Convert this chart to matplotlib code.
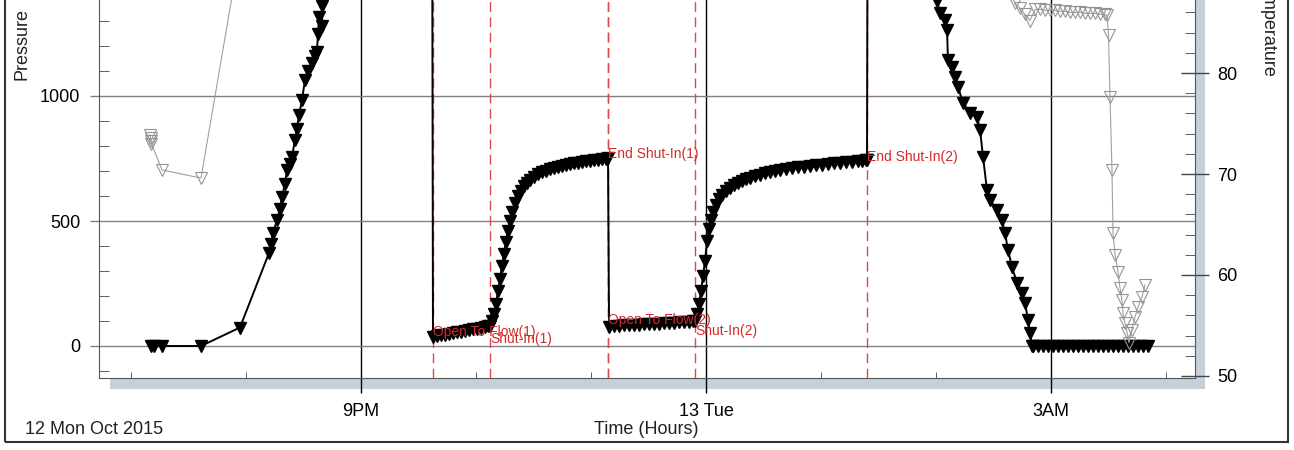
import matplotlib
matplotlib.use("Agg")
import matplotlib.pyplot as plt
from matplotlib.patches import Rectangle
from matplotlib.ticker import MultipleLocator

plt.rcParams['font.family'] = ['Liberation Sans', 'DejaVu Sans']

# time in hours from 12 Oct 00:00
pressure_time = [19.174, 19.200, 19.270, 19.609, 19.948,
                 20.200, 20.217, 20.235, 20.270, 20.296, 20.313, 20.339, 20.357, 20.383, 20.400,
                 20.426, 20.443, 20.461, 20.487, 20.513, 20.539, 20.574, 20.600, 20.617, 20.626,
                 20.635, 20.661, 20.665, 20.690, 21.000, 21.620,
                 # flow 1
                 21.626, 21.661, 21.696, 21.730, 21.765, 21.800, 21.835, 21.870, 21.904, 21.939,
                 21.974, 22.009, 22.043, 22.078, 22.104,
                 # shut-in 1
                 22.122, 22.139, 22.157, 22.174, 22.191, 22.209, 22.226, 22.243, 22.261, 22.278,
                 22.296, 22.313, 22.339, 22.365, 22.391, 22.417, 22.443, 22.470, 22.504, 22.539,
                 22.574, 22.609, 22.643, 22.678, 22.713, 22.748, 22.783, 22.817, 22.852, 22.887,
                 22.922, 22.957, 22.991, 23.026, 23.061, 23.096, 23.130, 23.148,
                 # flow 2
                 23.157, 23.200, 23.243, 23.287, 23.330, 23.374, 23.417, 23.461, 23.504, 23.548,
                 23.591, 23.635, 23.678, 23.722, 23.765, 23.809, 23.852, 23.887,
                 # shut-in 2
                 23.904, 23.922, 23.939, 23.957, 23.974, 23.991, 24.009, 24.026, 24.043, 24.061,
                 24.087, 24.113, 24.139, 24.174, 24.209, 24.243, 24.278, 24.313, 24.348, 24.383,
                 24.426, 24.470, 24.513, 24.557, 24.600, 24.643, 24.696, 24.748, 24.800, 24.852,
                 24.904, 24.957, 25.009, 25.061, 25.113, 25.165, 25.217, 25.270, 25.322, 25.357,
                 25.391, 25.400,
                 # pull out
                 25.404, 25.900, 25.950,
                 26.009, 26.035, 26.078, 26.096, 26.104, 26.139, 26.165, 26.191, 26.235, 26.296,
                 26.357, 26.383, 26.409, 26.443, 26.470, 26.530, 26.574, 26.600, 26.626, 26.661,
                 26.704, 26.748, 26.774, 26.800, 26.817, 26.835,
                 26.843, 26.887, 26.930, 26.974, 27.017, 27.061, 27.104, 27.148, 27.191, 27.235,
                 27.278, 27.322, 27.365, 27.409, 27.452, 27.496, 27.539, 27.583, 27.626, 27.670,
                 27.713, 27.757, 27.800, 27.843]
pressure_psi = [0, 0, 0, 0, 74,
                372, 410, 452, 504, 550, 596, 650, 704, 730, 756,
                824, 870, 924, 984, 1064, 1100, 1132, 1160, 1176, 1250,
                1316, 1280, 1360, 1430, 1520, 1530,
                36, 40, 43, 46, 49, 52, 55, 58, 61, 64,
                67, 70, 73, 76, 79,
                80, 100, 130, 170, 220, 270, 320, 370, 418, 462,
                500, 535, 572, 600, 622, 640, 654, 666, 678, 688,
                696, 702, 708, 713, 717, 721, 725, 728, 731, 734,
                737, 739, 742, 744, 746, 748, 750, 752,
                78, 80, 81, 83, 84, 85, 86, 87, 88, 89,
                90, 91, 92, 94, 95, 96, 98, 100,
                100, 130, 170, 220, 280, 340, 420, 470, 505, 535,
                565, 588, 604, 620, 632, 643, 652, 660, 667, 673,
                680, 686, 691, 696, 700, 704, 708, 712, 715, 718,
                721, 724, 726, 728, 731, 733, 735, 737, 739, 741,
                743, 745,
                1560, 1520, 1440,
                1380, 1332, 1304, 1264, 1144, 1116, 1076, 1036, 972, 932,
                916, 864, 756, 624, 584, 544, 504, 452, 384, 316,
                252, 212, 172, 104, 52, 0,
                0, 0, 0, 0, 0, 0, 0, 0, 0, 0,
                0, 0, 0, 0, 0, 0, 0, 0, 0, 0,
                0, 0, 0, 0]

temp_time = [19.165, 19.170, 19.174, 19.178, 19.270, 19.609, 19.948, 21.000, 25.500,
             26.580, 26.687, 26.730, 26.774, 26.817, 26.861, 26.904, 26.948, 26.991, 27.035,
             27.078, 27.122, 27.165, 27.209, 27.252, 27.296, 27.339, 27.383, 27.426, 27.470,
             27.487, 27.500, 27.513, 27.530, 27.539, 27.557, 27.583, 27.600, 27.617, 27.626,
             27.643, 27.661, 27.678, 27.704, 27.730, 27.757, 27.791, 27.817]
temp_degF = [73.9, 73.6, 73.3, 73.0, 70.4, 69.6, 92.2, 98.0, 99.0,
             89.5, 86.9, 86.4, 85.8, 85.2, 86.3, 86.3, 86.2, 86.2, 86.2,
             86.1, 86.1, 86.0, 86.0, 86.0, 85.9, 85.9, 85.9, 85.8, 85.8,
             85.7, 83.8, 77.6, 70.4, 64.2, 62.0, 60.3, 58.7, 57.5, 56.2,
             55.2, 54.3, 53.3, 54.6, 55.8, 56.8, 57.8, 59.0]

event_time = [21.626, 22.122, 23.148, 23.152, 23.904, 25.400]
event_label = ['Open To Flow(1)', 'Shut-In(1)', 'End Shut-In(1)', 'Open To Flow(2)',
               'Shut-In(2)', 'End Shut-In(2)']
event_label_p = [56, 30, 768, 104, 62, 756]

tick_hours = [21, 24, 27]
tick_labels = ['9PM', '13 Tue', '3AM']
minor_hours = [19, 20, 22, 23, 25, 26, 28]

W, H = 1294, 450
fig = plt.figure(figsize=(W / 100, H / 100), dpi=100)

# plot shadow and outer frame
fig.patches.append(Rectangle((110 / W, (H - 389) / H), (1205 - 110) / W, 1.0,
                             transform=fig.transFigure, facecolor='#c6d0db',
                             edgecolor='none', zorder=-2))
fig.patches.append(Rectangle((5 / W, (H - 442) / H), (1288 - 5) / W, 1.2,
                             transform=fig.transFigure, facecolor='none',
                             edgecolor='#333333', lw=1.5, zorder=-1))

ax = fig.add_axes([99 / W, (H - 378) / H, (1195 - 99) / W, 378 / H])
ax.set_facecolor('white')
ax.set_xlim(18.722, 28.252)
ax.set_ylim(-128, 1384)

ax.plot(pressure_time, pressure_psi, color='black', lw=1.4, marker='v',
        markersize=8.5, markerfacecolor='black', markeredgecolor='black', zorder=4)

for t in event_time:
    ax.axvline(t, color='#e24646', lw=1, dashes=(7, 4), zorder=3)
for t, lab, p in zip(event_time, event_label, event_label_p):
    ax.text(t, p, lab, color='#d42a2a', fontsize=10, ha='left', va='center', zorder=5)

ax.set_xticks(tick_hours)
ax.set_xticklabels(tick_labels)
ax.set_xticks(minor_hours, minor=True)
ax.set_yticks([0, 500, 1000])
ax.yaxis.set_minor_locator(MultipleLocator(100))
ax.grid(True, axis='x', which='major', color='black', lw=1)
ax.grid(True, axis='y', which='major', color='#808080', lw=1)
ax.tick_params(axis='x', which='major', direction='out', length=11, width=1,
               color='black', pad=7, labelsize=13)
ax.tick_params(axis='x', which='minor', direction='in', length=4.5, color='#444444')
ax.tick_params(axis='y', which='major', direction='out', length=6.5, width=1,
               color='#808080', pad=7, labelsize=13)
ax.tick_params(axis='y', which='minor', direction='in', length=7, color='#444444')
for s in ['top', 'right']:
    ax.spines[s].set_visible(False)
for s in ['left', 'bottom']:
    ax.spines[s].set_color('#555555')

ax2 = ax.twinx()
ax2.set_ylim(49.80, 87.23)
ax2.plot(temp_time, temp_degF, color='#a0a0a0', lw=0.8, marker='v', markersize=9,
         markerfacecolor='none', markeredgecolor='#959595', markeredgewidth=0.8)
ax2.set_yticks([50, 60, 70, 80])
ax2.yaxis.set_minor_locator(MultipleLocator(2))
ax2.tick_params(axis='y', which='major', direction='inout', length=20, width=1,
                color='#444444', pad=6, labelsize=13)
ax2.tick_params(axis='y', which='minor', direction='in', length=7, color='#444444')
for s in ['top', 'left', 'bottom']:
    ax2.spines[s].set_visible(False)
ax2.spines['right'].set_color('#555555')

fig.text(22 / W, (H - 80) / H, 'Pressure', rotation=90, ha='center', va='bottom',
         fontsize=13, color='#222222')
fig.text(1268 / W, (H - 77) / H, 'Temperature', rotation=270, ha='center', va='bottom',
         fontsize=13, color='#222222')
fig.text(646 / W, (H - 430) / H, 'Time (Hours)', ha='center', va='center',
         fontsize=13, color='#222222')
fig.text(25 / W, (H - 430) / H, '12 Mon Oct 2015', ha='left', va='center',
         fontsize=13, color='#222222')

fig.savefig('out.png', dpi=100)
